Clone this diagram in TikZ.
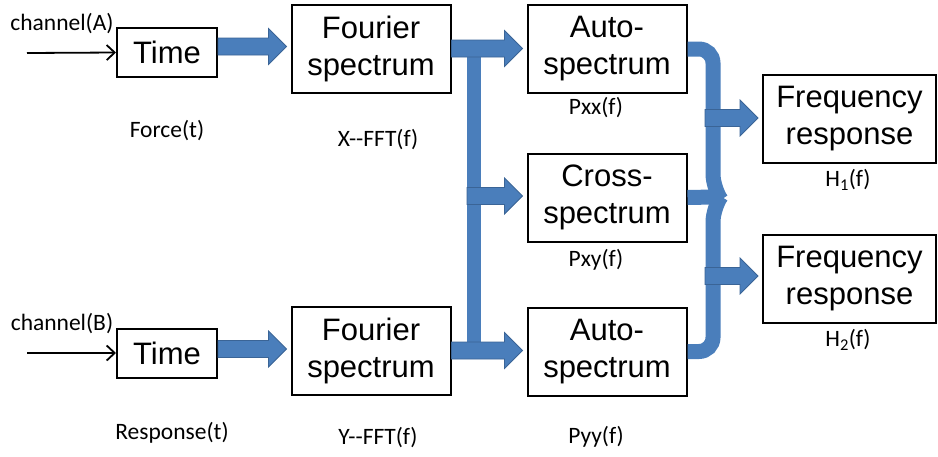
\documentclass[tikz,border=0pt]{standalone}
\usepackage{fontspec}
\setmainfont{Liberation Sans}
\newfontfamily\lblfont{Carlito}
\usepackage{tikz}
\usetikzlibrary{calc, arrows.meta, positioning}
\definecolor{arrowBlue}{HTML}{4A7EBB}
\definecolor{arrowEdge}{HTML}{3A6496}

% fat block arrow, horizontal, from the y of #1 up to just before #2
\newcommand{\blockarrow}[2]{%
  \draw[arrowEdge, fill=arrowBlue, line width=0.8pt] let \p1=(#1), \p2=(#2) in
    (\x1,\y1+8.5pt) -- (\x2-22pt,\y1+8.5pt) -- (\x2-22pt,\y1+18pt) -- (\x2-4pt,\y1)
    -- (\x2-22pt,\y1-18pt) -- (\x2-22pt,\y1-8.5pt) -- (\x1,\y1-8.5pt) -- cycle;}

\begin{document}
\begin{tikzpicture}
		[x=1pt, y=-1pt,
		block/.style ={rectangle, draw=black, line width=2pt, fill=white, align=center, inner sep=0pt, font=\fontsize{31}{37}\selectfont},
		timebox/.style ={block, minimum width=100pt, minimum height=49pt},
		specbox/.style ={block, minimum width=159pt, minimum height=88pt},
		freqbox/.style ={block, minimum width=173pt, minimum height=88pt},
		lbl/.style ={font=\lblfont\fontsize{23.5}{28}\selectfont, inner sep=0pt},
		feed/.style ={draw=black, line width=1.8pt, -{Straight Barb[length=8pt,width=15pt]}},
		bus/.style ={draw=arrowBlue, line width=14pt},
		brace/.style ={draw=arrowBlue, line width=15pt, rounded corners=14pt}]
		\useasboundingbox (0,0) rectangle (938,456);

		\draw (167,52.5) node[timebox] (ta) {Time};
		\draw (167,353) node[timebox] (tb) {Time};
		\draw (371,48.5) node[specbox] (fa) {Fourier\\spectrum};
		\draw (371,350.5) node[specbox] (fb) {Fourier\\spectrum};

		\draw (607,49) node[specbox] (aa) {Auto-\\spectrum};
		\draw (607,197.5) node[specbox] (cs) {Cross-\\spectrum};
		\draw (607,351.5) node[specbox] (ab) {Auto-\\spectrum};

		\draw (849.5,119) node[freqbox] (h1) {Frequency\\response};
		\draw (849.5,279) node[freqbox] (h2) {Frequency\\response};

		% texts under and beside the boxes
		\draw (62,24) node[lbl] (cha) {channel(A)};
		\draw (62,324) node[lbl] (chb) {channel(B)};
		\draw (167,131) node[lbl] (force) {Force(t)};
		\draw (172,433) node[lbl] (resp) {Response(t)};
		\draw (378,140) node[lbl] (xfft) {X--FFT(f)};
		\draw (378,438) node[lbl] (yfft) {Y--FFT(f)};
		\draw (596,108) node[lbl] (pxx) {Pxx(f)};
		\draw (596,260) node[lbl] (pxy) {Pxy(f)};
		\draw (596,437) node[lbl] (pyy) {Pyy(f)};
		\draw (848,180) node[lbl] (hf1) {H\textsubscript{1}(f)};
		\draw (848,340) node[lbl] (hf2) {H\textsubscript{2}(f)};

		% inputs
		\coordinate (ina) at (27,53);
		\coordinate (inb) at (27,353);
		\draw[feed] (ina) -- (ta.west);
		\draw[feed] (inb) -- (tb.west);

		% split bar between the two spectra
		\coordinate (sa) at (474,50);
		\coordinate (sb) at (474,350);
		\coordinate (sc) at (467,196);
		\draw[bus] (sa) -- (sb);

		% collecting braces on the right, meeting in a point at the cross-spectrum
		\coordinate (tip) at (720,198);
		\draw[brace] (aa.east) -| (713,188) -- (tip);
		\draw[brace] (tip) -- (713,208) |- (ab.east);
		\draw[brace] (cs.east) -- (714,197);
		\coordinate (ra) at (705,118);
		\coordinate (rb) at (705,276);

		\blockarrow{$(ta.east)+(0,-6)$}{fa.west}
		\blockarrow{$(tb.east)+(0,-4)$}{fb.west}
		\blockarrow{fa.east}{aa.west}
		\blockarrow{sc}{cs.west}
		\blockarrow{fb.east}{ab.west}
		\blockarrow{ra}{h1.west}
		\blockarrow{rb}{h2.west}

	\end{tikzpicture}
\end{document}
